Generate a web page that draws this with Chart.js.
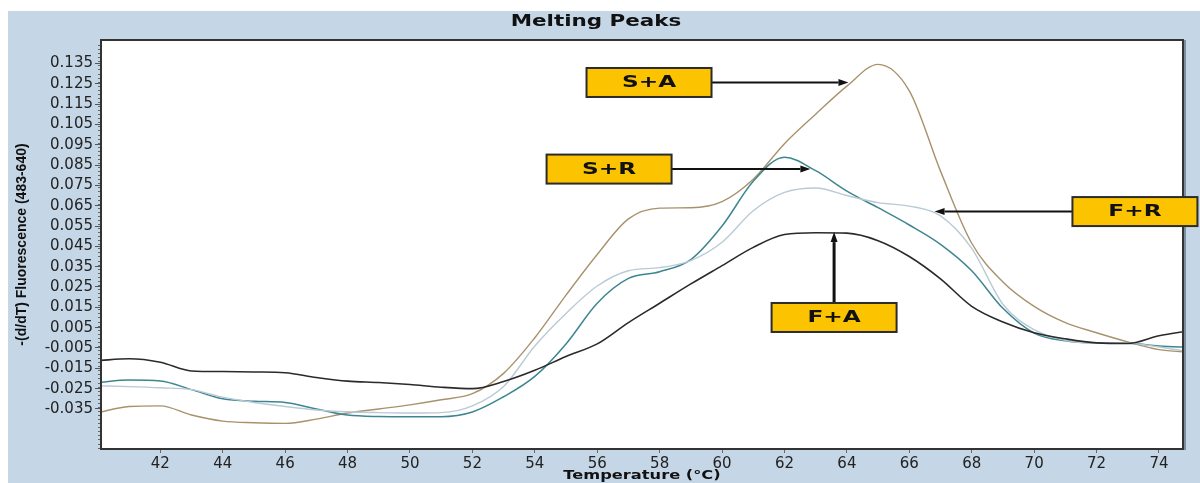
<!DOCTYPE html>
<html>
<head>
<meta charset="utf-8">
<title>Melting Peaks</title>
<script src="https://cdn.jsdelivr.net/npm/chart.js@4.4.1/dist/chart.umd.min.js"></script>
<style>
    body { margin: 0; background: #ffffff; }
    #wrap { position: relative; width: 1200px; height: 483px; }
</style>
</head>
<body>
<div id="wrap"><canvas id="myChart" width="1200" height="483"></canvas></div>
<script>
// temperature steps in °C, shared by every trace
const temps =
[
    40, 41, 42, 43, 44, 45, 46, 47, 48, 49, 50, 51, 52, 53, 54, 55, 56, 57,
    58, 59, 60, 61, 62, 63, 64, 65, 66, 67, 68, 69, 70, 71, 72, 73, 74, 75
];

// -(d/dT) fluorescence for each sample
const faValues =
[
    -0.0112, -0.0103, -0.0120, -0.0163, -0.0166, -0.0168, -0.0172, -0.0195, -0.0213,
    -0.0220, -0.0230, -0.0243, -0.0250, -0.0215, -0.0160, -0.0092, -0.0030, 0.0075,
    0.0170, 0.0265, 0.0355, 0.0445, 0.0508, 0.0517, 0.0515, 0.0478, 0.0400, 0.0290,
    0.0155, 0.0078, 0.0025, -0.0005, -0.0025, -0.0028, 0.0010, 0.0035
];

const frValues =
[
    -0.0236, -0.0240, -0.0246, -0.0255, -0.0292, -0.0318, -0.0338, -0.0355, -0.0364,
    -0.0368, -0.0370, -0.0368, -0.0335, -0.0240, -0.0040, 0.0120, 0.0255, 0.0330,
    0.0345, 0.0380, 0.0470, 0.0625, 0.0715, 0.0737, 0.0700, 0.0665, 0.0648, 0.0600,
    0.0440, 0.0165, 0.0040, -0.0012, -0.0026, -0.0026, -0.0045, -0.0070
];

const srValues =
[
    -0.0220, -0.0208, -0.0212, -0.0255, -0.0300, -0.0312, -0.0318, -0.0350, -0.0380,
    -0.0387, -0.0388, -0.0388, -0.0365, -0.0290, -0.0190, -0.0030, 0.0170, 0.0292,
    0.0325, 0.0385, 0.0550, 0.0770, 0.0888, 0.0822, 0.0722, 0.0640, 0.0555, 0.0460,
    0.0330, 0.0145, 0.0023, -0.0015, -0.0026, -0.0027, -0.0040, -0.0047
];

const saValues =
[
    -0.0368, -0.0338, -0.0335, -0.0380, -0.0410, -0.0418, -0.0421, -0.0400, -0.0370,
    -0.0350, -0.0330, -0.0305, -0.0275, -0.0175, 0.0000, 0.0210, 0.0410, 0.0585,
    0.0638, 0.0640, 0.0670, 0.0780, 0.0955, 0.1100, 0.1238, 0.1345, 0.1215, 0.0820,
    0.0465, 0.0275, 0.0155, 0.0075, 0.0025, -0.0020, -0.0058, -0.0072
];

const xTicks = [42, 44, 46, 48, 50, 52, 54, 56, 58, 60, 62, 64, 66, 68, 70, 72, 74];
const yTicks =
[
    -0.035, -0.025, -0.015, -0.005, 0.005, 0.015, 0.025, 0.035, 0.045,
    0.055, 0.065, 0.075, 0.085, 0.095, 0.105, 0.115, 0.125, 0.135
];

// callout boxes: box centre and arrow tip, both in data units
const notes =
[
    { text: 'S+A', box: [57.66, 0.1256], tip: [64.05, 0.1256], width: 2 },
    { text: 'S+R', box: [56.38, 0.0830], tip: [62.83, 0.0830], width: 2 },
    { text: 'F+R', box: [73.23, 0.0621], tip: [66.81, 0.0621], width: 2 },
    { text: 'F+A', box: [63.59, 0.0100], tip: [63.59, 0.0520], width: 3 }
];

function points(values)
{
    return temps.map((t, i) => ({ x: t, y: values[i] }));
}

function wideText(ctx, text, x, y, font, sx)
{
    ctx.save();
    ctx.translate(x, y);
    ctx.scale(sx, 1);
    ctx.font = font;
    ctx.textAlign = 'center';
    ctx.textBaseline = 'middle';
    ctx.fillText(text, 0, 0);
    ctx.restore();
}

function arrow(ctx, x0, y0, x1, y1, w)
{
    const a = Math.atan2(y1 - y0, x1 - x0);
    const len = 10, half = 3.5;
    const bx = x1 - len * Math.cos(a);
    const by = y1 - len * Math.sin(a);
    ctx.lineWidth = w;
    ctx.beginPath();
    ctx.moveTo(x0, y0);
    ctx.lineTo(bx, by);
    ctx.stroke();
    ctx.beginPath();
    ctx.moveTo(x1, y1);
    ctx.lineTo(bx + half * Math.sin(a), by - half * Math.cos(a));
    ctx.lineTo(bx - half * Math.sin(a), by + half * Math.cos(a));
    ctx.closePath();
    ctx.fill();
}

const decor =
{
    id: 'decor',
    beforeDraw(chart)
    {
        const ctx = chart.ctx;
        const a = chart.chartArea;
        ctx.save();
        ctx.fillStyle = '#ffffff';
        ctx.fillRect(0, 0, chart.width, chart.height);
        ctx.fillStyle = '#c5d6e6';
        ctx.fillRect(8, 11, chart.width - 8, chart.height - 11);
        ctx.fillStyle = '#ffffff';
        ctx.fillRect(a.left, a.top, a.right - a.left, a.bottom - a.top);
        ctx.restore();
    },
    afterDraw(chart)
    {
        const ctx = chart.ctx;
        const a = chart.chartArea;
        const xs = chart.scales.x;
        const ys = chart.scales.y;
        ctx.save();

        // minor ticks on the y axis
        ctx.strokeStyle = '#666';
        ctx.lineWidth = 1;
        ctx.beginPath();
        for(let v = -0.054; v <= 0.146; v += 0.002)
        {
            const py = Math.round(ys.getPixelForValue(v)) + 0.5;
            ctx.moveTo(a.left - 3, py);
            ctx.lineTo(a.left, py);
        }
        ctx.stroke();

        // plot frame
        ctx.strokeStyle = '#333';
        ctx.lineWidth = 2;
        ctx.strokeRect(a.left, a.top, a.right - a.left, a.bottom - a.top);
        ctx.strokeStyle = '#7d8ea0';
        ctx.beginPath();
        ctx.moveTo(a.right + 2, a.top);
        ctx.lineTo(a.right + 2, a.bottom + 1);
        ctx.stroke();

        // titles
        ctx.fillStyle = '#111';
        wideText(ctx, 'Melting Peaks', 596, 22, 'bold 16px "DejaVu Sans"', 1.34);
        wideText(ctx, 'Temperature (°C)', (a.left + a.right) / 2, 476, 'bold 13px "DejaVu Sans"', 1.25);

        // callouts
        const bw = 125, bh = 29;
        notes.forEach(n =>
        {
            const cx = xs.getPixelForValue(n.box[0]);
            const cy = ys.getPixelForValue(n.box[1]);
            const tx = xs.getPixelForValue(n.tip[0]);
            const ty = ys.getPixelForValue(n.tip[1]);

            ctx.fillStyle = '#111';
            ctx.strokeStyle = '#111';
            if(Math.abs(tx - cx) > Math.abs(ty - cy))
            {
                const sx = tx > cx ? cx + bw / 2 : cx - bw / 2;
                arrow(ctx, sx, cy, tx, cy, n.width);
            }
            else
            {
                arrow(ctx, cx, cy - bh / 2, cx, ty, n.width);
            }

            ctx.fillStyle = '#fbc300';
            ctx.fillRect(cx - bw / 2, cy - bh / 2, bw, bh);
            ctx.strokeStyle = '#2b2b2b';
            ctx.lineWidth = 2;
            ctx.strokeRect(cx - bw / 2, cy - bh / 2, bw, bh);
            ctx.fillStyle = '#111';
            wideText(ctx, n.text, cx, cy + 1, 'bold 15px "DejaVu Sans"', 1.55);
        });
        ctx.restore();
    }
};

const config =
{
    type: 'line',
    data:
    {
        datasets:
        [
            { label: 'F+A', data: points(faValues), borderColor: '#2a2a2a', borderWidth: 1.6 },
            { label: 'F+R', data: points(frValues), borderColor: '#b9cad6', borderWidth: 1.4 },
            { label: 'S+R', data: points(srValues), borderColor: '#3d8690', borderWidth: 1.5 },
            { label: 'S+A', data: points(saValues), borderColor: '#a8926c', borderWidth: 1.4 }
        ]
    },
    options:
    {
        responsive: false,
        animation: false,
        layout: { padding: { left: 8, top: 40, right: 17, bottom: 0 } },
        elements:
        {
            point: { radius: 0 },
            line: { cubicInterpolationMode: 'monotone', fill: false }
        },
        plugins:
        {
            legend: { display: false },
            title: { display: false },
            tooltip: { enabled: false }
        },
        scales:
        {
            x:
            {
                type: 'linear',
                min: 40.1,
                max: 74.77,
                afterBuildTicks: s => { s.ticks = xTicks.map(v => ({ value: v })); },
                afterFit: s => { s.height = 34; },
                grid: { drawOnChartArea: false, tickLength: 4, tickColor: '#666' },
                border: { display: false },
                ticks:
                {
                    autoSkip: false,
                    maxRotation: 0,
                    padding: 2,
                    color: '#222',
                    font: { family: 'DejaVu Sans', size: 15 }
                }
            },
            y:
            {
                type: 'linear',
                min: -0.0547,
                max: 0.1465,
                afterBuildTicks: s => { s.ticks = yTicks.map(v => ({ value: v })); },
                afterFit: s => { s.width = 93; },
                grid: { drawOnChartArea: false, tickLength: 6, tickColor: '#555' },
                border: { display: false },
                ticks:
                {
                    autoSkip: false,
                    padding: 2,
                    color: '#222',
                    font: { family: 'DejaVu Sans', size: 15 },
                    callback: v => v.toFixed(3)
                },
                title:
                {
                    display: true,
                    text: '-(d/dT) Fluorescence (483-640)',
                    color: '#111',
                    font: { family: 'Liberation Sans', size: 14, weight: 'bold' },
                    padding: { top: 6, bottom: 0 }
                }
            }
        }
    },
    plugins: [decor]
};

new Chart(document.getElementById('myChart'), config);
</script>
</body>
</html>
